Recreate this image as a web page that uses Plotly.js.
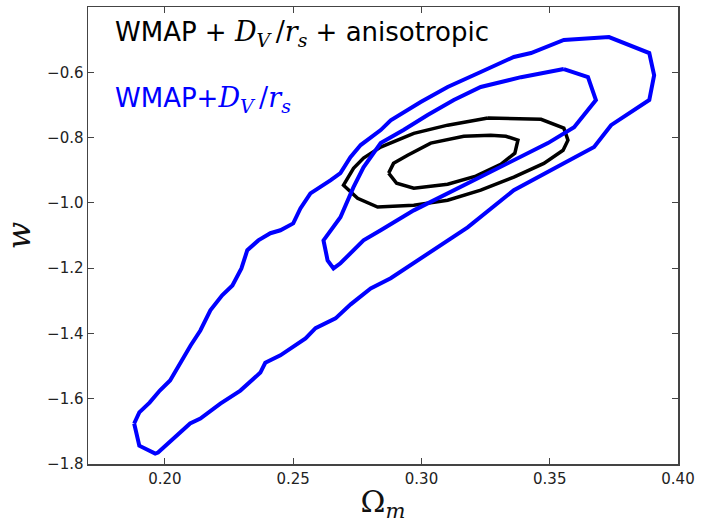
<!DOCTYPE html>
<html>
<head>
<meta charset="utf-8">
<script src="https://cdn.plot.ly/plotly-3.0.1.min.js"></script>
<style>html,body{margin:0;padding:0;background:#fff;}#chart{width:708px;height:523px;}</style>
</head>
<body>
<div id="chart"></div>
<script>
// WMAP + D_V/r_s : outer (95%) contour
const outerBlueX = [0.188,0.190,0.194,0.198,0.202,0.206,0.210,0.2138,0.2177,0.2223,0.2263,0.2298,0.2321,0.2364,0.2411,0.245,0.250,0.2528,0.2567,0.2645,0.2684,0.2723,0.2763,0.2841,0.288,0.2997,0.3102,0.3231,0.336,0.3427,0.3555,0.3731,0.3888,0.3907,0.3888,0.3739,0.3673,0.3555,0.336,0.318,0.3048,0.288,0.2802,0.2724,0.2665,0.2587,0.2548,0.245,0.2391,0.2372,0.2294,0.2216,0.2138,0.2098,0.1973,0.1962,0.190,0.188];
const outerBlueY = [-1.676,-1.642,-1.612,-1.575,-1.544,-1.489,-1.437,-1.391,-1.329,-1.283,-1.253,-1.201,-1.145,-1.115,-1.093,-1.084,-1.063,-1.017,-0.971,-0.931,-0.909,-0.860,-0.823,-0.777,-0.747,-0.691,-0.645,-0.599,-0.553,-0.541,-0.501,-0.492,-0.541,-0.609,-0.685,-0.762,-0.829,-0.879,-0.961,-1.075,-1.145,-1.231,-1.262,-1.311,-1.354,-1.384,-1.415,-1.467,-1.490,-1.520,-1.575,-1.615,-1.661,-1.676,-1.765,-1.768,-1.744,-1.676];
// WMAP + D_V/r_s : inner (68%) contour
const innerBlueX = [0.3555,0.3649,0.3680,0.3595,0.3493,0.336,0.3231,0.3102,0.2970,0.2841,0.2774,0.2684,0.2657,0.2634,0.2618,0.2684,0.2735,0.2774,0.2841,0.2930,0.3024,0.3126,0.3231,0.3388,0.3555];
const innerBlueY = [-0.590,-0.615,-0.685,-0.768,-0.817,-0.869,-0.921,-0.971,-1.023,-1.084,-1.115,-1.185,-1.201,-1.176,-1.115,-1.044,-0.952,-0.891,-0.817,-0.777,-0.731,-0.685,-0.645,-0.615,-0.590];
// WMAP + D_V/r_s + anisotropic : outer contour
const outerBlackX = [0.3259,0.3466,0.3555,0.3571,0.3552,0.3477,0.3360,0.3231,0.3102,0.2970,0.2829,0.2751,0.2696,0.2735,0.2774,0.2841,0.2970,0.3102,0.3259];
const outerBlackY = [-0.740,-0.744,-0.771,-0.808,-0.839,-0.879,-0.921,-0.961,-0.992,-1.007,-1.013,-0.986,-0.946,-0.894,-0.863,-0.829,-0.787,-0.762,-0.740];
// WMAP + D_V/r_s + anisotropic : inner contour
const innerBlackX = [0.2872,0.2903,0.2970,0.3102,0.3212,0.3309,0.3364,0.3376,0.3329,0.3270,0.3165,0.3036,0.2946,0.2891,0.2872];
const innerBlackY = [-0.909,-0.940,-0.955,-0.943,-0.918,-0.882,-0.848,-0.808,-0.796,-0.793,-0.796,-0.817,-0.854,-0.879,-0.909];

const xTicks = [0.20,0.25,0.30,0.35,0.40];
const yTicks = [-1.8,-1.6,-1.4,-1.2,-1.0,-0.8,-0.6];
const mathDV = '<span style="font-family:DejaVu Serif;font-size:27px"><i>D</i><sub><i>V</i></sub>\u2009/<i>r</i><sub><i>s</i></sub></span>';
const labelAniso = 'WMAP + ' + mathDV + ' + anisotropic';
const labelWmap = 'WMAP+' + mathDV;

const line = (x, y, color, w) => ({x, y, type: 'scatter', mode: 'lines', line: {color, width: w}, hoverinfo: 'skip', showlegend: false});
const data = [
  line(outerBlackX, outerBlackY, '#000000', 3.5),
  line(innerBlackX, innerBlackY, '#000000', 3.5),
  line(outerBlueX, outerBlueY, '#0000ff', 4),
  line(innerBlueX, innerBlueY, '#0000ff', 4)
];

const axisCommon = {
  showgrid: false, zeroline: false, showline: true, linecolor: '#444', linewidth: 1.5,
  mirror: 'ticks', ticks: 'inside', ticklen: 6, tickwidth: 1, tickcolor: '#444',
  tickfont: {family: 'DejaVu Sans', size: 15, color: '#222'}
};

const layout = {
  width: 708, height: 523,
  margin: {l: 88, r: 30, t: 7, b: 59},
  paper_bgcolor: '#fff', plot_bgcolor: '#fff',
  xaxis: Object.assign({}, axisCommon, {
    range: [0.17, 0.40], tickvals: xTicks, tickformat: '.2f',
    title: {text: 'Ω<sub><i>m</i></sub>', font: {family: 'DejaVu Serif', size: 30, color: '#111'}, standoff: 4}
  }),
  yaxis: Object.assign({}, axisCommon, {
    range: [-1.8, -0.4], tickvals: yTicks, tickformat: '.1f',
    title: {text: '<i>w</i>', font: {family: 'DejaVu Serif', size: 32, color: '#111'}, standoff: 14}
  }),
  annotations: [
    {xref: 'paper', yref: 'paper', x: 0.042, y: 0.943, xanchor: 'left', yanchor: 'middle', showarrow: false,
     text: labelAniso, font: {family: 'DejaVu Sans', size: 26, color: '#000'}},
    {xref: 'paper', yref: 'paper', x: 0.042, y: 0.797, xanchor: 'left', yanchor: 'middle', showarrow: false,
     text: labelWmap, font: {family: 'DejaVu Sans', size: 26, color: '#0000ff'}}
  ]
};

Plotly.newPlot('chart', data, layout, {displayModeBar: false, staticPlot: true});
</script>
</body>
</html>
